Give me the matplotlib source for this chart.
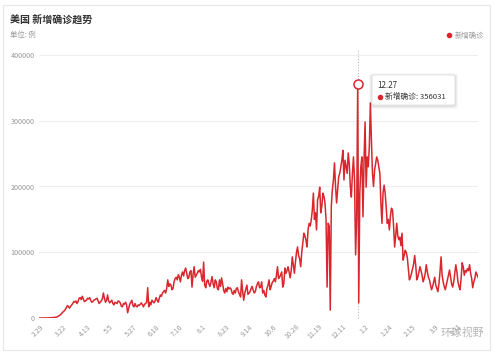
import matplotlib
matplotlib.use("Agg")
import matplotlib.pyplot as plt
import matplotlib.transforms as mtransforms
from matplotlib.patches import Rectangle, FancyBboxPatch
from matplotlib.lines import Line2D
import numpy as np
import pandas as pd

plt.rcParams['font.family'] = ['Noto Sans CJK SC', 'DejaVu Sans']

# ---------------- data ----------------
start_date = "2020-02-29"
daily_new_cases = [
    10, 20, 25, 30, 40, 60, 80,
    100, 120, 180, 290, 450, 480, 620,
    700, 900, 1200, 1600, 2500, 3500, 4500,
    6000, 8000, 9500, 11000, 13000, 16000, 19000,
    17000, 15000, 18000, 20000, 22000, 25000, 24000,
    26000, 22000, 25000, 30000, 31000, 28000, 33000,
    29000, 25000, 26000, 27000, 30000, 29000, 31000,
    27000, 24000, 25000, 27000, 28000, 29000, 30000,
    26000, 22000, 24000, 26000, 29000, 38000, 30000,
    24000, 27000, 35000, 26000, 23000, 25000, 27000,
    22000, 20000, 24000, 23000, 22000, 26000, 25000,
    23000, 18000, 17000, 22000, 21000, 24000, 20000,
    8000, 15000, 21000, 24000, 27000, 19000, 17000,
    22000, 18000, 17000, 20000, 19000, 21000, 23000,
    20000, 17000, 21000, 22000, 24000, 46000, 17000,
    24000, 20000, 27000, 25000, 23000, 26000, 31000,
    27000, 24000, 30000, 35000, 33000, 38000, 40000,
    42000, 38000, 45000, 58000, 48000, 52000, 50000,
    43000, 45000, 55000, 60000, 62000, 58000, 66000,
    62000, 55000, 65000, 70000, 64000, 72000, 76000,
    68000, 60000, 62000, 70000, 72000, 47000, 66000,
    78000, 62000, 65000, 68000, 72000, 70000, 74000,
    62000, 56000, 85000, 50000, 46000, 56000, 58000,
    52000, 48000, 55000, 63000, 52000, 46000, 58000,
    55000, 45000, 43000, 58000, 48000, 61000, 52000,
    42000, 38000, 45000, 40000, 47000, 44000, 46000,
    44000, 38000, 36000, 42000, 38000, 45000, 46000,
    40000, 36000, 32000, 58000, 40000, 27000, 38000,
    44000, 50000, 36000, 38000, 40000, 45000, 48000,
    42000, 38000, 40000, 48000, 52000, 55000, 46000,
    47000, 55000, 38000, 42000, 35000, 32000, 45000,
    50000, 58000, 43000, 48000, 54000, 56000, 60000,
    55000, 65000, 78000, 60000, 62000, 66000, 70000,
    47000, 52000, 76000, 68000, 72000, 78000, 70000,
    61000, 72000, 93000, 80000, 68000, 85000, 100000,
    108000, 95000, 90000, 78000, 100000, 115000, 129000,
    125000, 118000, 108000, 135000, 144000, 140000, 149000,
    164000, 190000, 150000, 160000, 134000, 180000, 185000,
    199000, 160000, 170000, 190000, 185000, 175000, 150000,
    47000, 144000, 140000, 12000, 170000, 195000, 210000,
    236000, 200000, 175000, 195000, 215000, 220000, 230000,
    240000, 255000, 210000, 240000, 230000, 220000, 251000,
    235000, 200000, 184000, 220000, 245000, 210000, 96000,
    150000, 356031, 23000, 190000, 230000, 245000, 154000,
    240000, 298000, 199000, 245000, 230000, 260000, 327000,
    270000, 220000, 200000, 225000, 235000, 245000, 240000,
    230000, 220000, 175000, 144000, 190000, 202000, 190000,
    169000, 144000, 150000, 134000, 155000, 167000, 164000,
    140000, 108000, 125000, 144000, 125000, 119000, 123000,
    110000, 129000, 88000, 95000, 103000, 100000, 92000,
    75000, 58000, 62000, 68000, 75000, 82000, 95000,
    80000, 58000, 62000, 70000, 78000, 72000, 65000,
    55000, 60000, 68000, 81000, 70000, 62000, 58000,
    50000, 43000, 48000, 55000, 62000, 50000, 45000,
    40000, 52000, 70000, 93000, 65000, 55000, 48000,
    43000, 50000, 58000, 65000, 73000, 62000, 52000,
    47000, 55000, 68000, 81000, 70000, 55000, 48000,
    43000, 60000, 84000, 78000, 65000, 72000, 70000,
    75000, 72000, 81000, 68000, 60000, 46000, 55000,
    60000, 70000, 66000, 62000,
]
dates = pd.date_range(start_date, periods=len(daily_new_cases), freq="D")
categories = [f"{d.month}.{d.day}" for d in dates]
tick_labels = ["2.29", "3.22", "4.13", "5.5", "5.27", "6.18", "7.10", "8.1", "8.23",
               "9.14", "10.6", "10.28", "11.19", "12.11", "1.2", "1.24", "2.15", "3.9", "3.31"]
y_ticks = [0, 100000, 200000, 300000, 400000]
series_name = "新增确诊"
title = "美国 新增确诊趋势"
unit_text = "单位: 例"

# ---------------- figure ----------------
W, H = 499, 354
fig = plt.figure(figsize=(W / 100, H / 100), dpi=100)
fig.patch.set_facecolor("white")

def fx(x):
    return x / W

def fy(y):
    return 1 - y / H

# card
card = Rectangle((fx(3), fy(350)), fx(490) - fx(3), fy(5) - fy(350),
                 transform=fig.transFigure, facecolor="white",
                 edgecolor="#e6e6e6", linewidth=0.8, zorder=-5)
fig.patches.append(card)

ax_left, ax_right, ax_top, ax_bottom = 39, 478, 55, 318
ax = fig.add_axes([fx(ax_left), fy(ax_bottom), fx(ax_right) - fx(ax_left),
                   fy(ax_top) - fy(ax_bottom)])
ax.set_facecolor("none")
ax.set_zorder(1)

red = "#d9272e"
x = np.arange(len(daily_new_cases))
ax.plot(x, daily_new_cases, color=red, linewidth=1.1, zorder=3, solid_joinstyle="round")

ax.set_xlim(0, len(daily_new_cases) - 1)
ax.set_ylim(0, 400000)

for s in ax.spines.values():
    s.set_visible(False)

ax.set_yticks(y_ticks)
ax.set_yticklabels([str(v) for v in y_ticks])
ax.yaxis.grid(True, color="#eeeeee", linewidth=0.8)
ax.tick_params(axis="y", length=0, pad=3, labelsize=5.2, labelcolor="#999999")

tick_pos = list(range(0, len(daily_new_cases), 22))[:len(tick_labels)]
ax.set_xticks(tick_pos)
ax.set_xticklabels(tick_labels, rotation=45, ha="right", va="center",
                   rotation_mode="anchor")
ax.tick_params(axis="x", length=0, pad=5.5, labelsize=5.0, labelcolor="#999999")
offset = mtransforms.ScaledTranslation(4 / 100, 0, fig.dpi_scale_trans)
for lbl in ax.get_xticklabels():
    lbl.set_transform(lbl.get_transform() + offset)
ax.set_axisbelow(True)

# highlighted point (peak)
peak_idx = int(np.argmax(daily_new_cases))
peak_val = daily_new_cases[peak_idx]
ax.axvline(peak_idx, ymin=0, ymax=1.02, color="#bbbbbb", linewidth=0.8,
           linestyle=(0, (1, 1.5)), clip_on=False, zorder=2)
ax.plot([peak_idx], [peak_val], marker="o", markersize=6.5, markerfacecolor="white",
        markeredgecolor=red, markeredgewidth=1.1, zorder=5, clip_on=False)

# tooltip (with soft shadow)
for i, a in enumerate([0.05, 0.04, 0.03]):
    sh = FancyBboxPatch((fx(372 - i - 1), fy(105 + i + 2)),
                        fx(455 + i + 1) - fx(372 - i - 1), fy(75 - i) - fy(105 + i + 2),
                        boxstyle="round,pad=0,rounding_size=0.008",
                        transform=fig.transFigure, facecolor="black", alpha=a,
                        edgecolor="none", zorder=9)
    fig.patches.append(sh)
tip = FancyBboxPatch((fx(372), fy(105)), fx(455) - fx(372), fy(75) - fy(105),
                     boxstyle="round,pad=0,rounding_size=0.006",
                     transform=fig.transFigure, facecolor="white",
                     edgecolor="#e2e2e2", linewidth=0.6, zorder=10)
fig.patches.append(tip)
fig.text(fx(377), fy(85), categories[peak_idx], fontsize=5.8, color="#333333",
         va="center", ha="left", zorder=11)
fig.text(fx(385), fy(97), f"{series_name}: {peak_val}", fontsize=5.6, color="#333333",
         va="center", ha="left", zorder=11)
fig.lines.append(Line2D([fx(379.5)], [fy(97)], marker="o", markersize=3,
                        color=red, transform=fig.transFigure, zorder=11))

# titles
fig.text(fx(10), fy(20), title, fontsize=7.2, color="#333333", fontweight="bold",
         va="center", ha="left")
fig.text(fx(10), fy(35), unit_text, fontsize=5.3, color="#999999",
         va="center", ha="left")

# legend
handle = Line2D([], [], linestyle="none", marker="o", markersize=3, color=red)
fig.legend([handle], [series_name], loc="center right",
           bbox_to_anchor=(fx(484), fy(36)), frameon=False, fontsize=5.3,
           labelcolor="#999999", handlelength=0.6, handletextpad=0.4,
           borderpad=0, borderaxespad=0)

# watermark
fig.text(fx(484), fy(333), "环球视野", fontsize=7.8, color="#a8a8a8",
         va="center", ha="right", alpha=0.85, zorder=12)

fig.savefig("out.png", dpi=100, facecolor="white")
